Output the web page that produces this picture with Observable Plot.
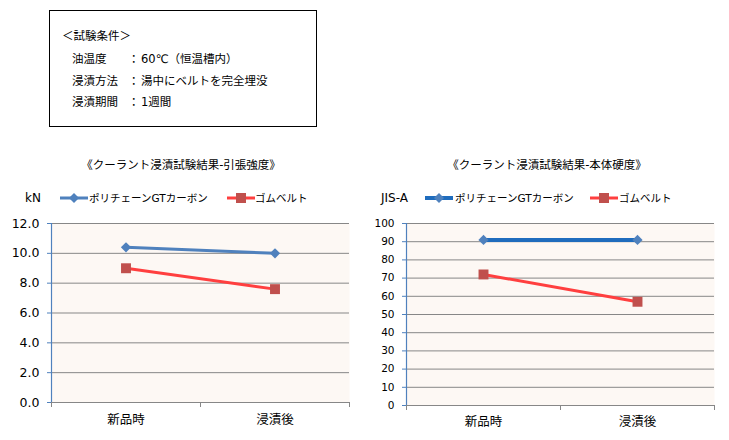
<!DOCTYPE html>
<html><head><meta charset="utf-8">
<script src="https://cdn.jsdelivr.net/npm/d3@7"></script>
<script src="https://cdn.jsdelivr.net/npm/@observablehq/plot@0.6"></script>
<style>
body{margin:0;background:#fff;color:#000;font-family:"DejaVu Sans","Noto Sans CJK JP",sans-serif}
#root{position:relative;width:729px;height:440px;overflow:hidden}
.abs{position:absolute;white-space:nowrap;line-height:16px;height:16px}
#box{position:absolute;left:49px;top:10px;width:268px;height:117px;box-sizing:border-box;border:1px solid #000}
.t{font-size:11.5px}
.lg{font-size:10.5px}
.un{font-size:12px}
.ttl{font-size:11.5px;transform:translateX(-50%)}
</style></head><body><div id="root"></div>
<script>
// ---- data ----
const categories = ["新品時", "浸漬後"];
const seriesNames = ["ポリチェーンGTカーボン", "ゴムベルト"];
const tensilePoly = [10.4, 10.0];
const tensileRubber = [9.0, 7.6];
const hardnessPoly = [91, 91];
const hardnessRubber = [72, 57];
const tensileTicks = [0, 2, 4, 6, 8, 10, 12];
const hardnessTicks = [0, 10, 20, 30, 40, 50, 60, 70, 80, 90, 100];
const chartTitles = ["《クーラント浸漬試験結果-引張強度》", "《クーラント浸漬試験結果-本体硬度》"];
const units = ["kN", "JIS-A"];
const conditionHeader = "＜試験条件＞";
const conditionLabels = ["油温度", "浸漬方法", "浸漬期間"];
const conditionValues = ["60℃（恒温槽内）", "湯中にベルトを完全埋没", "1週間"];

// ---- colours ----
const BLUE = "#4f81bd", BLUE_DARK = "#1f6cbd", RED = "#ff3f3f", RED_MARK = "#c0504d";
const GRID = "#878787", BG = "#fdf8f4";
const root = document.getElementById("root");

function addText(txt, left, cy, cls) {
  const d = document.createElement("div");
  d.className = "abs " + cls;
  d.style.left = left + "px";
  d.style.top = (cy - 8) + "px";
  d.textContent = txt;
  root.appendChild(d);
  return d;
}

// ---- condition box ----
const box = document.createElement("div"); box.id = "box"; root.appendChild(box);
addText(conditionHeader, 62, 36, "t");
const rowsY = [59, 81, 102];
conditionLabels.forEach((l, i) => {
  addText(l, 72, rowsY[i], "t");
  addText("：", 128, rowsY[i], "t");
  addText(conditionValues[i], 141, rowsY[i], "t");
});

// ---- legend swatches ----
function swatch(left, cy, color, markColor, kind, lw) {
  const ns = "http://www.w3.org/2000/svg";
  const s = document.createElementNS(ns, "svg");
  s.setAttribute("width", 28); s.setAttribute("height", 12);
  s.style.position = "absolute"; s.style.left = left + "px"; s.style.top = (cy - 6) + "px";
  const ln = document.createElementNS(ns, "line");
  ln.setAttribute("x1", 0); ln.setAttribute("x2", 28); ln.setAttribute("y1", 6); ln.setAttribute("y2", 6);
  ln.setAttribute("stroke", color); ln.setAttribute("stroke-width", lw);
  s.appendChild(ln);
  if (kind === "diamond") {
    const p = document.createElementNS(ns, "polygon");
    p.setAttribute("points", "14,1 19,6 14,11 9,6");
    p.setAttribute("fill", markColor);
    s.appendChild(p);
  } else {
    const r = document.createElementNS(ns, "rect");
    r.setAttribute("x", 9); r.setAttribute("y", 1); r.setAttribute("width", 10); r.setAttribute("height", 10);
    r.setAttribute("fill", markColor);
    s.appendChild(r);
  }
  root.appendChild(s);
}

// titles & legends
addText(chartTitles[0], 181, 165, "ttl");
addText(chartTitles[1], 547, 165, "ttl");
addText(units[0], 25, 198, "un");
swatch(60, 198, BLUE, BLUE, "diamond", 3);
addText(seriesNames[0], 89, 198, "lg");
swatch(227, 198, RED, RED_MARK, "square", 3);
addText(seriesNames[1], 255, 198, "lg");

addText(units[1], 381, 198, "un");
swatch(425, 198, BLUE_DARK, BLUE, "diamond", 4);
addText(seriesNames[0], 455, 198, "lg");
swatch(590, 198, RED, RED_MARK, "square", 3);
addText(seriesNames[1], 619, 198, "lg");

// ---- charts ----
function chart({poly, rubber, ticks, fmt, width, ml, mr, mb, fontSize, polyStroke, polyWidth, catDy}) {
  const dp = categories.map((c, i) => ({x: i + 0.5, y: poly[i]}));
  const dr = categories.map((c, i) => ({x: i + 0.5, y: rubber[i]}));
  return Plot.plot({
    width, height: 225,
    marginLeft: ml, marginRight: mr, marginTop: 8, marginBottom: mb,
    style: {fontFamily: '"DejaVu Sans","Noto Sans CJK JP",sans-serif', fontSize: fontSize + "px", color: "#000", background: "transparent", overflow: "visible"},
    x: {type: "linear", domain: [0, categories.length], label: null},
    y: {domain: [0, ticks[ticks.length - 1]], label: null},
    marks: [
      Plot.frame({fill: BG, stroke: "none"}),
      Plot.ruleY(ticks, {stroke: GRID, strokeWidth: 1}),
      Plot.axisX(d3.range(categories.length + 1), {tickSize: 5, stroke: GRID, tickFormat: () => "", label: null}),
      Plot.ruleX([0], {stroke: BLUE, strokeWidth: 1.2}),
      Plot.axisY(ticks, {tickSize: 4, tickPadding: 8, stroke: BLUE, fill: "#000", tickFormat: fmt, label: null}),
      Plot.text(categories, {x: (d, i) => i + 0.5, text: d => d, frameAnchor: "bottom", dy: catDy, fontSize: 12.5, fontFamily: '"Noto Sans CJK JP",sans-serif'}),
      Plot.line(dp, {x: "x", y: "y", stroke: polyStroke, strokeWidth: polyWidth}),
      Plot.dot(dp, {x: "x", y: "y", symbol: "diamond2", r: 4.6, fill: BLUE, stroke: "none"}),
      Plot.line(dr, {x: "x", y: "y", stroke: RED, strokeWidth: 3}),
      Plot.dot(dr, {x: "x", y: "y", symbol: "square", r: 5.6, fill: RED_MARK, stroke: "none"})
    ]
  });
}

const left = chart({poly: tensilePoly, rubber: tensileRubber, ticks: tensileTicks, fmt: d3.format(".1f"),
  width: 360, ml: 51, mr: 11, mb: 38, fontSize: 12.5, polyStroke: BLUE, polyWidth: 3, catDy: 21});
left.style.position = "absolute"; left.style.left = "0px"; left.style.top = "215px";
root.appendChild(left);

const right = chart({poly: hardnessPoly, rubber: hardnessRubber, ticks: hardnessTicks, fmt: d3.format("d"),
  width: 369, ml: 46, mr: 15, mb: 35, fontSize: 10.5, polyStroke: BLUE_DARK, polyWidth: 4, catDy: 20});
right.style.position = "absolute"; right.style.left = "360px"; right.style.top = "215px";
root.appendChild(right);
</script>
</body></html>
